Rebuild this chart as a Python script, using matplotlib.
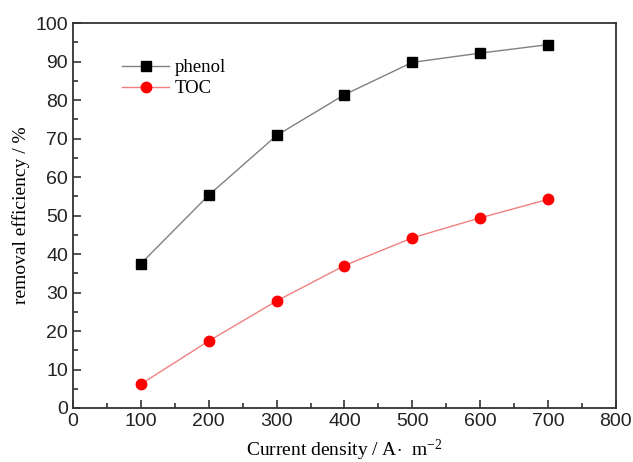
import matplotlib

matplotlib.use("Agg")
import matplotlib.pyplot as plt
from matplotlib.ticker import MultipleLocator

current_density = [100, 200, 300, 400, 500, 600, 700]
phenol_removal = [37.5, 55.3, 70.8, 81.4, 89.8, 92.2, 94.4]
toc_removal = [6.2, 17.4, 27.8, 37.0, 44.2, 49.4, 54.2]

SERIF = ["Liberation Serif", "DejaVu Serif"]
SANS = ["Liberation Sans", "DejaVu Sans"]
plt.rcParams["mathtext.fontset"] = "custom"
plt.rcParams["mathtext.rm"] = "Liberation Serif"
plt.rcParams["mathtext.it"] = "Liberation Serif:italic"

fig = plt.figure(figsize=(6.33, 4.62), dpi=100)
ax = fig.add_axes([0.1153, 0.1169, 0.973 - 0.1153, 0.950 - 0.1169])

ax.plot(current_density, phenol_removal, "s-", color="#808080", linewidth=1.0,
        markerfacecolor="black", markeredgecolor="black", markersize=6.5, label="phenol")
ax.plot(current_density, toc_removal, "o-", color="#f08080", linewidth=1.0,
        markerfacecolor="red", markeredgecolor="red", markersize=7.5, label="TOC")

ax.set_xlim(0, 800)
ax.set_ylim(0, 100)
ax.xaxis.set_major_locator(MultipleLocator(100))
ax.xaxis.set_minor_locator(MultipleLocator(50))
ax.yaxis.set_major_locator(MultipleLocator(10))
ax.yaxis.set_minor_locator(MultipleLocator(5))
ax.tick_params(which="both", direction="in", top=False, right=False, width=1.2, color="#333333")
ax.tick_params(which="major", length=6, labelsize=14)
ax.tick_params(which="minor", length=3.5)
for lab in ax.get_xticklabels() + ax.get_yticklabels():
    lab.set_family(SANS)
    lab.set_color("#222222")
for sp in ax.spines.values():
    sp.set_linewidth(1.3)
    sp.set_color("#333333")

ax.set_xlabel("Current density / A$\\cdot$  m$^{-2}$", fontsize=14, family=SERIF, labelpad=6)
ax.set_ylabel("removal efficiency / %", fontsize=14, family=SERIF, labelpad=4)

leg = ax.legend(loc="upper left", bbox_to_anchor=(0.06, 0.95), frameon=False,
                prop={"family": SERIF, "size": 13.5}, handlelength=2.5, labelspacing=0.2,
                handletextpad=0.3)

fig.savefig("out.png", dpi=100)
